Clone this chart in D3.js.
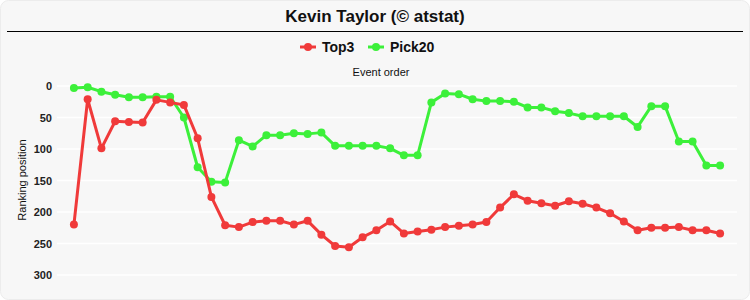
<!DOCTYPE html>
<html>
<head>
<meta charset="utf-8">
<script src="https://cdn.jsdelivr.net/npm/d3@7"></script>
<style>
  body { margin: 0; background: #ffffff; }
  #vis { width: 750px; height: 300px; }
</style>
</head>
<body>
<div id="vis"></div>
<script>
// chart data
var chartTitle = "Kevin Taylor (\u00a9 atstat)";
var seriesNames = ["Top3", "Pick20"];
var seriesColors = ["#f03a3a", "#3cf03a"];
var yTicks = [0, 50, 100, 150, 200, 250, 300];

var top3 = [220, 21, 99, 56, 57, 58, 22, 26, 30, 83, 176, 221, 224, 216, 214, 214,
	220, 214, 236, 254, 256, 240, 229, 215, 234, 231, 228, 224, 222, 220, 216, 193,
	172, 182, 186, 190, 183, 187, 193, 202, 215, 229, 225, 225, 224, 229, 229, 234];

var pick20 = [3, 2, 9, 14, 18, 18, 17, 17, 50, 129, 152, 153, 86, 96, 78, 78,
	75, 76, 74, 95, 95, 95, 95, 99, 110, 110, 26, 12, 13, 21, 24, 24,
	25, 34, 34, 40, 43, 48, 48, 48, 48, 65, 32, 32, 88, 88, 126, 126];

function rankingChart(selector){
	var width = 750;
	var height = 300;

	var svg = d3.select(selector)
		.append("svg")
		.attr("width", width)
		.attr("height", height);

	// rounded panel background
	svg.append("rect")
		.attr("x", 0.5).attr("y", 0.5)
		.attr("width", width - 1).attr("height", height - 1)
		.attr("rx", 8)
		.attr("fill", "#f7f7f7")
		.attr("stroke", "#ececec");

	// title + rule
	svg.append("text")
		.attr("x", width / 2).attr("y", 22)
		.attr("text-anchor", "middle")
		.style("font-family", "'Liberation Sans Narrow', 'Arial Narrow', Arial, sans-serif")
		.style("font-weight", "bold")
		.style("font-size", "17px")
		.attr("fill", "#111")
		.text(chartTitle);

	svg.append("line")
		.attr("x1", 7).attr("x2", 743)
		.attr("y1", 31.5).attr("y2", 31.5)
		.attr("stroke", "#000")
		.attr("stroke-width", 1.2);

	//////////////////////////  SCALES  //////////////////////////
	var idx = d3.range(top3.length);

	var x = d3.scalePoint()
		.domain(idx)
		.range([57, 737])
		.padding(1.23);

	var y = d3.scaleLinear()
		.domain([0, 300])
		.range([86, 275]);

	// gridlines
	svg.append("g")
		.selectAll("line")
		.data(yTicks)
		.enter().append("line")
		.attr("x1", 57).attr("x2", 737)
		.attr("y1", function(d){ return y(d); })
		.attr("y2", function(d){ return y(d); })
		.attr("stroke", "#ffffff")
		.attr("stroke-width", 1.5);

	// y axis labels
	var yAxis = d3.axisLeft(y)
		.tickValues(yTicks)
		.tickSize(0)
		.tickPadding(0);

	var yg = svg.append("g")
		.attr("transform", "translate(52,0)")
		.call(yAxis);
	yg.select(".domain").remove();
	yg.selectAll("text")
		.style("font-family", "Arial, 'Liberation Sans', sans-serif")
		.style("font-weight", "bold")
		.style("font-size", "11px")
		.attr("fill", "#222");

	svg.append("text")
		.attr("transform", "translate(26,180) rotate(-90)")
		.attr("text-anchor", "middle")
		.style("font-family", "Arial, 'Liberation Sans', sans-serif")
		.style("font-size", "11px")
		.attr("fill", "#111")
		.text("Ranking position");

	svg.append("text")
		.attr("x", 381).attr("y", 76)
		.attr("text-anchor", "middle")
		.style("font-family", "Arial, 'Liberation Sans', sans-serif")
		.style("font-size", "11px")
		.attr("fill", "#111")
		.text("Event order");

	//////////////////////////  LINES  //////////////////////////
	var series = [
		{ name: seriesNames[0], color: seriesColors[0], values: top3 },
		{ name: seriesNames[1], color: seriesColors[1], values: pick20 }
	];

	var line = d3.line()
		.x(function(d, i){ return x(i); })
		.y(function(d){ return y(d); });

	// draw green first so red sits on top where they cross
	var drawOrder = [series[1], series[0]];

	drawOrder.forEach(function(s){
		svg.append("path")
			.datum(s.values)
			.attr("fill", "none")
			.attr("stroke", s.color)
			.attr("stroke-width", 3)
			.attr("stroke-linejoin", "round")
			.attr("d", line);

		svg.append("g")
			.selectAll("circle")
			.data(s.values)
			.enter().append("circle")
			.attr("cx", function(d, i){ return x(i); })
			.attr("cy", function(d){ return y(d); })
			.attr("r", 4)
			.attr("fill", s.color);
	});

	//////////////////////////  LEGEND  //////////////////////////
	var legendX = [300, 368];
	series.forEach(function(s, i){
		var lg = svg.append("g")
			.attr("transform", "translate(" + legendX[i] + ",47)");
		lg.append("line")
			.attr("x1", 0).attr("x2", 16)
			.attr("stroke", s.color)
			.attr("stroke-width", 3);
		lg.append("circle")
			.attr("cx", 8).attr("r", 4)
			.attr("fill", s.color);
		lg.append("text")
			.attr("x", 22).attr("y", 5)
			.style("font-family", "'Liberation Sans Narrow', 'Arial Narrow', Arial, sans-serif")
			.style("font-weight", "bold")
			.style("font-size", "14px")
			.attr("fill", "#111")
			.text(s.name);
	});
}

rankingChart("#vis");
</script>
</body>
</html>
